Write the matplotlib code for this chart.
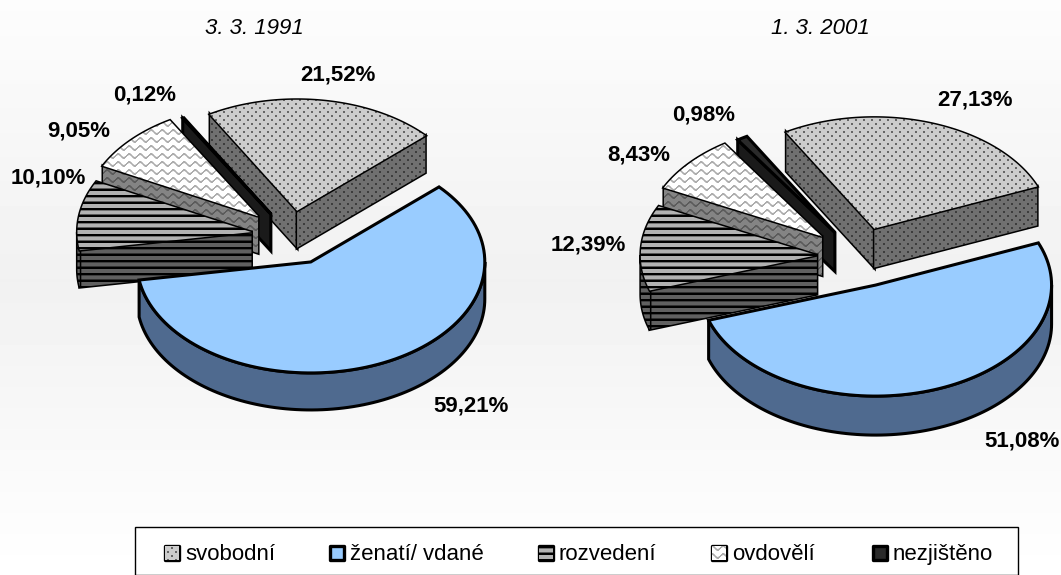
import numpy as np
import matplotlib
matplotlib.use('Agg')
import matplotlib.pyplot as plt
from matplotlib.patches import Polygon, Rectangle

categories = ['svobodní', 'ženatí/ vdané', 'rozvedení', 'ovdovělí', 'nezjištěno']
values_1991 = [21.52, 59.21, 10.10, 9.05, 0.12]
values_2001 = [27.13, 51.08, 12.39, 8.43, 0.98]
titles = ['3. 3. 1991', '1. 3. 2001']

W, H = 1061, 575
plt.rcParams['font.family'] = ['Liberation Sans', 'DejaVu Sans']

yy, xx = np.mgrid[0:H, 0:W] + 0.5


def smooth(d, w=0.7):
    return np.clip(0.5 + d / w, 0, 1)


def dots(bg, fg):
    a = np.hypot((xx % 8) - 4, (yy % 8) - 4)
    b = np.hypot(((xx + 4) % 8) - 4, ((yy + 4) % 8) - 4)
    m = smooth(1.1 - np.minimum(a, b))
    return np.dstack([bg + (fg - bg) * m] * 3)


def stripes(bg, fg):
    d = np.abs((yy % 6.5) - 1.2)
    m = smooth(1.2 - d)
    return np.dstack([bg + (fg - bg) * m] * 3)


def waves(bg, fg):
    c = 4 + 1.9 * np.sin(2 * np.pi * xx / 11)
    d = np.abs(((yy - c + 4) % 8) - 4)
    m = smooth(1.1 - d)
    return np.dstack([bg + (fg - bg) * m] * 3)


top_style = [dots(0.80, 0.40), '#99ccff', stripes(0.70, 0.0), waves(1.0, 0.68), '#2a2a2a']
side_style = [dots(0.44, 0.24), '#4f6a8f', stripes(0.38, 0.0), waves(0.52, 0.36), '#1a1a1a']

fig = plt.figure(figsize=(W / 100, H / 100), dpi=100)
ax = fig.add_axes([0, 0, 1, 1])

# background gradient, darkest a bit above the middle
shade = np.interp(np.arange(H), [0, 280, 575], [0.99, 0.945, 1.0])
ax.imshow(shade[:, None], cmap='gray', vmin=0, vmax=1, extent=(0, W, H, 0),
          aspect='auto', zorder=0)

z = [1]


def face(points, style, lw=2.2, join='miter'):
    z[0] += 1
    if isinstance(style, str):
        p = Polygon(points, closed=True, fc=style, ec='black', lw=lw, joinstyle=join, zorder=z[0])
        ax.add_patch(p)
    else:
        p = Polygon(points, closed=True, fc='none', ec='black', lw=lw, joinstyle=join, zorder=z[0])
        ax.add_patch(p)
        im = ax.imshow(style, extent=(0, W, H, 0), aspect='auto', interpolation='bilinear', zorder=z[0])
        im.set_clip_path(p)


def draw_pie(values, cx, cy, rx, ry, depth, explode):
    total = sum(values)
    edges = -30 + np.cumsum([0] + list(values)) / total * 360
    # back to front
    for i in [0, 4, 3, 2, 1]:
        a0, a1 = edges[i], edges[i + 1]
        mid = np.radians((a0 + a1) / 2)
        ax_ = cx + explode[i] * rx * np.sin(mid)
        ay_ = cy - explode[i] * ry * np.cos(mid)

        def pt(deg):
            t = np.radians(deg)
            return np.column_stack([ax_ + rx * np.sin(t), ay_ - ry * np.cos(t)])

        arc = pt(np.linspace(a0, a1, 100))
        apex = np.array([[ax_, ay_]])
        down = np.array([0, depth])
        m = pt(np.array([(a0 + a1) / 2]))[0] - apex[0]

        # the flat cuts, only when they face the viewer
        for p in [arc[0], arc[-1]]:
            e = p - apex[0]
            if (e[0] * down[1] - e[1] * down[0]) * (e[0] * m[1] - e[1] * m[0]) < 0:
                face(np.vstack([apex, [p], [p + down], apex + down]), side_style[i])

        # outer rim
        lo, hi = max(a0, 90), min(a1, 270)
        if hi > lo:
            rim = pt(np.linspace(lo, hi, 100))
            face(np.vstack([rim, rim[::-1] + down]), side_style[i])

        face(np.vstack([apex, arc]), top_style[i])


draw_pie(values_1991, 291, 236, 174, 111, 37, [0.23, 0.26, 0.23, 0.26, 0.23])
draw_pie(values_2001, 859, 257, 176, 111, 39, [0.27, 0.27, 0.24, 0.28, 0.26])

label_pos_1991 = [(338, 75), (471, 406), (48, 178), (79, 131), (145, 95)]
label_pos_2001 = [(975, 100), (1022, 441), (588, 245), (639, 155), (704, 115)]
for vals, pos in [(values_1991, label_pos_1991), (values_2001, label_pos_2001)]:
    for v, (x, y) in zip(vals, pos):
        ax.text(x, y, f'{v:.2f}'.replace('.', ',') + '%', fontsize=16, fontweight='bold',
                ha='center', va='center', color='black', zorder=500)

for t, x in zip(titles, [254, 820]):
    ax.text(x, 29, t, fontsize=16, fontstyle='italic', ha='center', va='center', zorder=500)

# legend box
ax.add_patch(Rectangle((134.5, 526.5), 883, 48, fc='white', ec='black', lw=1.0, zorder=400))
swatch_x = [165, 330, 539, 712, 873]
for i, (name, x) in enumerate(zip(categories, swatch_x)):
    z[0] = 410 + i * 2
    sq = [(x, 546), (x + 14, 546), (x + 14, 560), (x, 560)]
    face(sq, top_style[i], lw=2.4, join='round')
    ax.text(x + 20, 554.5, name, fontsize=16, ha='left', va='center', zorder=500)

ax.set_xlim(0, W)
ax.set_ylim(H, 0)
ax.axis('off')
fig.savefig('out.png', dpi=100)
